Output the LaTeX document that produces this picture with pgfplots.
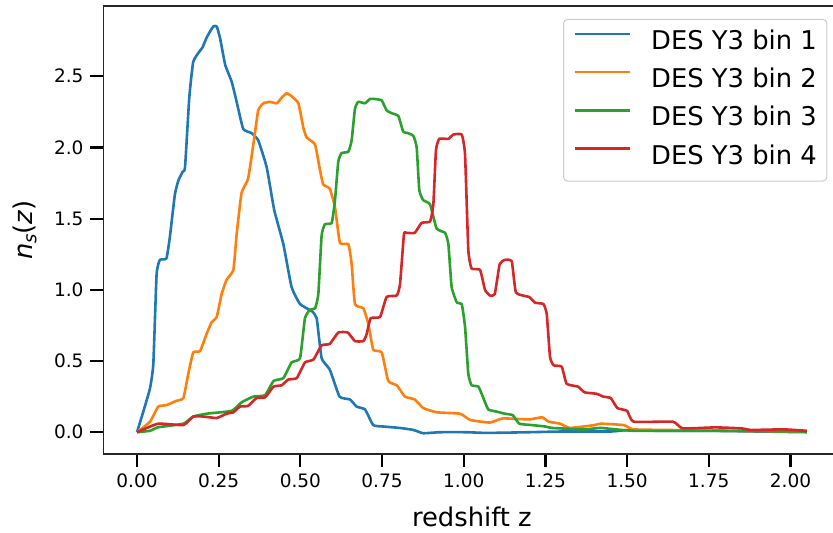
\documentclass[border=0pt]{standalone}
\usepackage{fontspec}
\setmainfont{DejaVu Sans}
\usepackage{pgfplots}
\pgfplotsset{compat=1.18}

\definecolor{tabblue}{HTML}{1F77B4}
\definecolor{taborange}{HTML}{FF7F0E}
\definecolor{tabgreen}{HTML}{2CA02C}
\definecolor{tabred}{HTML}{D62728}

\begin{document}
\begin{tikzpicture}
\begin{axis}[
  name=ax,
  scale only axis,
  width=368.4pt, height=224pt,
  xmin=-0.1025, xmax=2.1525,
  ymin=-0.153, ymax=2.993,
  axis line style={line width=0.85pt, black!85},
  tick align=outside,
  xtick pos=lower, ytick pos=left,
  major tick length=6.5pt,
  tick style={line width=1.1pt, black},
  xtick={0,0.25,...,2.0},
  ytick={0,0.5,...,2.5},
  xticklabel style={/pgf/number format/.cd, fixed, fixed zerofill, precision=2},
  yticklabel style={/pgf/number format/.cd, fixed, fixed zerofill, precision=1},
  /pgf/number format/assume math mode=true,
  ticklabel style={font=\fontsize{9.25}{11}\selectfont, black},
  xlabel={redshift z},
  ylabel={\textit{n}\raisebox{-0.3ex}{\fontsize{9}{10}\selectfont\textit{s}}(\textit{z})},
  every axis x label/.style={at={(axis description cs:0.5,-0.1406)}, anchor=center,
    font=\fontsize{12.9}{15}\selectfont},
  every axis y label/.style={at={(axis description cs:-0.1072,0.5)}, anchor=center, rotate=90,
    font=\fontsize{12.9}{15}\selectfont},
  legend cell align=left,
  legend image code/.code={\draw[#1] (0pt,4.6pt) -- (27.5pt,4.6pt);},
  legend style={
    at={(rel axis cs:1,1)}, anchor=north east, xshift=-6.5pt, yshift=-6.5pt,
    draw=black!20, line width=0.5pt, rounded corners=2pt,
    fill=white, fill opacity=0.8, text opacity=1,
    font=\fontsize{12.9}{15}\selectfont,
    inner xsep=5pt, inner ysep=5.5pt,
    row sep=6.6pt, column sep=10pt,
    nodes={inner sep=0pt, text height=9.5pt, text depth=3pt},
  },
  every axis plot/.append style={line width=1.3pt, line join=round, smooth, tension=0.25},
]

% bin 1
\addplot[tabblue] coordinates {
(0.00,0.00) (0.02,0.15) (0.04,0.31) (0.05,0.48) (0.06,1.11) (0.07,1.21)
(0.09,1.22) (0.10,1.36) (0.116,1.67) (0.127,1.77) (0.14,1.83) (0.147,1.86)
(0.16,2.35) (0.172,2.60) (0.19,2.67) (0.20,2.70) (0.213,2.77) (0.225,2.82)
(0.234,2.85) (0.244,2.85) (0.254,2.77) (0.27,2.58) (0.29,2.46) (0.305,2.32)
(0.325,2.13) (0.351,2.10) (0.371,2.05) (0.397,1.86) (0.42,1.56) (0.448,1.32)
(0.473,1.02) (0.499,0.90) (0.535,0.85) (0.55,0.80) (0.565,0.52) (0.59,0.44)
(0.62,0.25) (0.652,0.23) (0.672,0.18) (0.698,0.16) (0.723,0.05) (0.754,0.04)
(0.805,0.03) (0.846,0.016) (0.876,-0.007) (0.927,0.0) (1.01,0.0) (1.07,-0.005)
(1.20,0.0) (1.30,0.005) (1.45,0.005) (1.50,0.015) (1.60,0.01) (1.75,0.01)
(1.90,0.005) (2.05,0.0)
};
\addlegendentry{DES Y3 bin 1}

% bin 2
\addplot[taborange] coordinates {
(0.00,0.00) (0.04,0.074) (0.065,0.18) (0.09,0.19) (0.12,0.22) (0.142,0.24)
(0.157,0.41) (0.172,0.56) (0.193,0.57) (0.213,0.69) (0.228,0.77) (0.244,0.81)
(0.259,0.97) (0.274,1.07) (0.295,1.14) (0.305,1.39) (0.32,1.68) (0.34,1.78)
(0.356,2.02) (0.371,2.26) (0.387,2.31) (0.407,2.32) (0.428,2.31) (0.443,2.35)
(0.458,2.38) (0.473,2.36) (0.494,2.31) (0.509,2.14) (0.519,2.07) (0.545,2.02)
(0.56,1.84) (0.57,1.74) (0.59,1.71) (0.606,1.58) (0.621,1.33) (0.647,1.32)
(0.657,1.18) (0.667,0.90) (0.693,0.87) (0.708,0.76) (0.723,0.58) (0.749,0.56)
(0.769,0.36) (0.795,0.33) (0.82,0.25) (0.85,0.23) (0.876,0.17) (0.917,0.14)
(0.989,0.13) (1.02,0.086) (1.08,0.068) (1.12,0.097) (1.20,0.09) (1.24,0.105)
(1.26,0.074) (1.295,0.06) (1.325,0.03) (1.40,0.05) (1.42,0.06) (1.49,0.05)
(1.52,0.02) (1.65,0.015) (1.80,0.01) (2.05,0.005)
};
\addlegendentry{DES Y3 bin 2}

% bin 3
\addplot[tabgreen] coordinates {
(0.00,0.00) (0.04,0.01) (0.065,0.035) (0.142,0.06) (0.172,0.11) (0.213,0.13)
(0.29,0.15) (0.32,0.21) (0.356,0.25) (0.392,0.26) (0.418,0.36) (0.448,0.38)
(0.473,0.49) (0.499,0.52) (0.514,0.80) (0.529,0.86) (0.545,0.87) (0.555,0.97)
(0.565,1.38) (0.575,1.46) (0.596,1.47) (0.606,1.63) (0.616,1.90) (0.626,1.96)
(0.647,1.97) (0.657,2.05) (0.667,2.27) (0.677,2.32) (0.698,2.31) (0.713,2.34)
(0.728,2.34) (0.749,2.33) (0.764,2.26) (0.78,2.24) (0.80,2.22) (0.815,2.11)
(0.83,2.10) (0.846,2.08) (0.856,2.00) (0.864,1.70) (0.876,1.63) (0.897,1.60)
(0.917,1.43) (0.943,1.40) (0.953,1.32) (0.963,1.02) (0.979,0.91) (0.994,0.90)
(1.004,0.74) (1.014,0.41) (1.024,0.33) (1.045,0.32) (1.06,0.24) (1.075,0.16)
(1.10,0.145) (1.126,0.13) (1.15,0.12) (1.17,0.06) (1.21,0.05) (1.25,0.04)
(1.27,0.03) (1.37,0.02) (1.42,0.03) (1.52,0.01) (1.80,0.01) (2.05,0.005)
};
\addlegendentry{DES Y3 bin 3}

% bin 4
\addplot[tabred] coordinates {
(0.00,0.00) (0.065,0.06) (0.142,0.05) (0.172,0.11) (0.203,0.11) (0.244,0.10)
(0.274,0.13) (0.295,0.14) (0.315,0.18) (0.34,0.185) (0.366,0.24) (0.392,0.245)
(0.418,0.32) (0.443,0.33) (0.463,0.37) (0.489,0.38) (0.514,0.49) (0.54,0.51)
(0.565,0.61) (0.59,0.62) (0.616,0.70) (0.645,0.70) (0.667,0.64) (0.693,0.64)
(0.703,0.69) (0.715,0.80) (0.744,0.81) (0.764,0.95) (0.795,0.96) (0.805,1.04)
(0.817,1.39) (0.825,1.40) (0.85,1.40) (0.871,1.47) (0.897,1.48) (0.907,1.60)
(0.915,1.98) (0.925,2.06) (0.953,2.06) (0.968,2.09) (0.994,2.09) (1.004,1.95)
(1.014,1.28) (1.024,1.15) (1.05,1.14) (1.065,1.00) (1.08,0.96) (1.095,0.97)
(1.11,1.18) (1.126,1.21) (1.147,1.20) (1.16,0.98) (1.20,0.95) (1.218,0.91)
(1.244,0.90) (1.254,0.83) (1.264,0.53) (1.275,0.47) (1.30,0.46) (1.315,0.34)
(1.35,0.32) (1.37,0.28) (1.407,0.27) (1.427,0.25) (1.45,0.24) (1.47,0.17)
(1.50,0.15) (1.52,0.074) (1.64,0.074) (1.67,0.027) (1.77,0.034) (1.85,0.027)
(1.88,0.016) (1.98,0.02) (2.05,0.01)
};
\addlegendentry{DES Y3 bin 4}

\end{axis}
% page area: the frame's right edge falls just past the page
\pgfresetboundingbox
\useasboundingbox ([shift={(-51.75pt,-39pt)}]ax.south west)
  rectangle ([shift={(364.75pt,3pt)}]ax.north west);
\end{tikzpicture}
\end{document}
